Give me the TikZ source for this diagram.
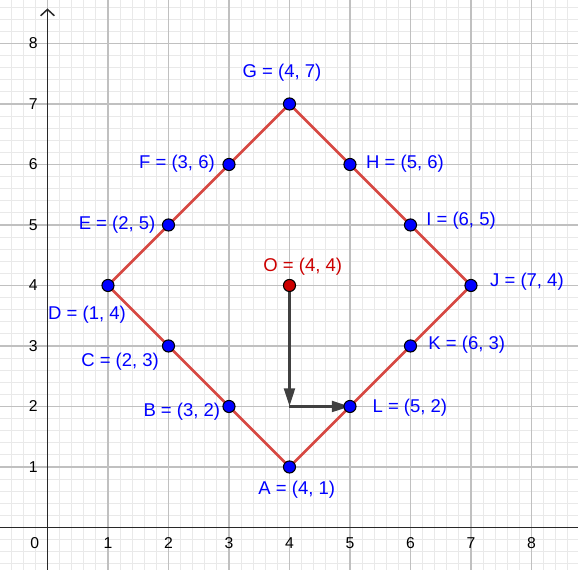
\documentclass[tikz,border=0pt]{standalone}
\usepackage{fontspec}
\setmainfont{Liberation Sans}
\usetikzlibrary{arrows.meta}
\definecolor{ptblue}{RGB}{0,0,255}
\definecolor{ptred}{RGB}{204,0,0}
\definecolor{segred}{RGB}{214,72,66}
\definecolor{vecgray}{RGB}{64,64,64}
\definecolor{minorgrid}{RGB}{233,233,233}
\definecolor{majorgrid}{RGB}{192,192,192}
\definecolor{axisgray}{RGB}{40,40,40}
\begin{document}
\begin{tikzpicture}[x=1cm,y=1cm,
  minorline/.style={draw=minorgrid, line width=0.4pt},
  majorline/.style={draw=majorgrid, line width=0.6pt},
  axisline/.style={draw=axisgray, line width=0.7pt},
  tick/.style={font=\fontsize{7.4}{9}\selectfont, text=black, inner sep=0pt},
  seg/.style={draw=segred, line width=1.3pt, line join=round},
  vec/.style={draw=vecgray, line width=1.4pt, -{Triangle[length=8.5pt,width=5pt]}},
  pt/.style={circle, fill=ptblue, draw=black, line width=0.5pt, minimum size=0.2cm, inner sep=0pt},
  ptr/.style={pt, fill=ptred},
  lbl/.style={text=ptblue, font=\fontsize{8.7}{10}\selectfont, inner sep=0pt},
  lblr/.style={lbl, text=ptred}]
\useasboundingbox (-0.785,-0.702) rectangle (8.769,8.719);
\begin{scope}
  \clip (-0.785,-0.702) rectangle (8.769,8.719);
  \draw[minorline, step=0.2] (-1,-1) grid (9,9);
  \draw[majorline, step=1] (-1,-1) grid (9,9);
\end{scope}
% axes
\coordinate (xl) at (-0.785,0);
\coordinate (xr) at (8.769,0);
\coordinate (yb) at (0,-0.702);
\coordinate (yt) at (0,8.58);
\draw[axisline] (xl) -- (xr);
\draw[axisline, -{Straight Barb[length=3pt,width=6.5pt]}] (yb) -- (yt);
% tick labels
\node[tick] (t0) at (-0.21,-0.255) {0};
\foreach \i in {1,...,8} {
  \node[tick] (tx\i) at (\i,-0.255) {\i};
  \node[tick] (ty\i) at (-0.235,\i) {\i};
}
% points
\coordinate (A) at (4,1);
\coordinate (B) at (3,2);
\coordinate (C) at (2,3);
\coordinate (D) at (1,4);
\coordinate (E) at (2,5);
\coordinate (F) at (3,6);
\coordinate (G) at (4,7);
\coordinate (H) at (5,6);
\coordinate (I) at (6,5);
\coordinate (J) at (7,4);
\coordinate (K) at (6,3);
\coordinate (L) at (5,2);
\coordinate (O) at (4,4);
\coordinate (M) at (4,2);
% polygon
\draw[seg] (A) -- (L) -- (K) -- (J) -- (I) -- (H) -- (G) -- (F) -- (E) -- (D) -- (C) -- (B) -- cycle;
% vectors
\draw[vec] (O) -- (M);
\draw[vec] (M) -- (L);
% point markers
\foreach \p in {A,B,C,D,E,F,G,H,I,J,K,L} {
  \node[pt] (p\p) at (\p) {};
}
\node[ptr] (pO) at (O) {};
% labels
\node[lbl] (lA) at (4.12,0.62) {A = (4, 1)};
\node[lbl] (lB) at (2.22,1.91) {B = (3, 2)};
\node[lbl] (lC) at (1.20,2.74) {C = (2, 3)};
\node[lbl] (lD) at (0.653,3.51) {D = (1, 4)};
\node[lbl] (lE) at (1.15,5.0) {E = (2, 5)};
\node[lbl] (lF) at (2.14,6.01) {F = (3, 6)};
\node[lbl] (lG) at (3.876,7.51) {G = (4, 7)};
\node[lbl] (lH) at (5.91,6.01) {H = (5, 6)};
\node[lbl] (lI) at (6.835,5.066) {I = (6, 5)};
\node[lbl] (lJ) at (7.925,4.06) {J = (7, 4)};
\node[lbl] (lK) at (6.93,3.02) {K = (6, 3)};
\node[lbl] (lL) at (5.99,1.975) {L = (5, 2)};
\node[lblr] (lO) at (4.22,4.31) {O = (4, 4)};
\end{tikzpicture}
\end{document}
